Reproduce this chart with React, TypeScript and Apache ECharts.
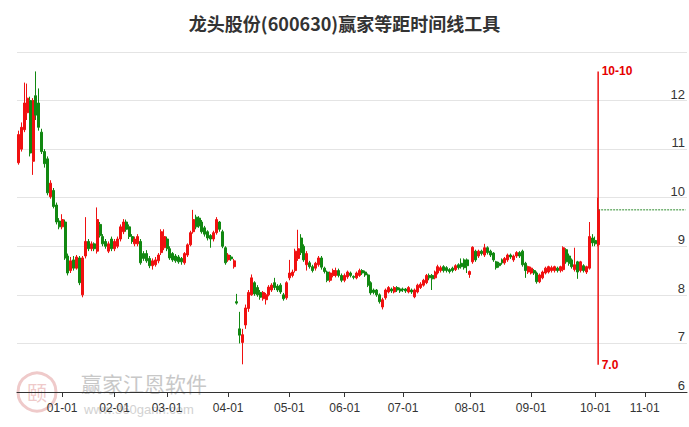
import React, { useEffect, useRef } from "react";
import * as echarts from "echarts";

const TITLE = "龙头股份(600630)赢家等距时间线工具";

// trading calendar
const START_DATE = "2024-12-11";
const CATEGORY_COUNT = 230;
const HOLIDAYS = [
  "2025-01-01", "2025-01-28", "2025-01-29", "2025-01-30", "2025-01-31",
  "2025-02-03", "2025-02-04", "2025-04-04", "2025-05-01", "2025-05-02",
  "2025-05-05", "2025-06-02", "2025-10-01", "2025-10-02", "2025-10-03",
  "2025-10-06", "2025-10-07", "2025-10-08",
];

// daily candles: [open, close, low, high]
const ohlc: number[][] = [
  // Dec 2024
  [10.72, 11.3, 10.68, 11.38], [11.0, 11.45, 10.95, 11.55], [11.4, 11.95, 11.35, 12.37], [11.75, 12.05, 11.6, 12.35], [12.0, 10.92, 10.85, 12.08],
  [10.75, 12.0, 10.47, 12.05], [12.1, 11.7, 11.6, 12.6], [11.95, 11.45, 11.38, 12.25], [11.35, 10.95, 10.9, 11.42], [10.95, 10.7, 10.62, 11.0],
  [10.8, 10.1, 10.05, 10.85], [10.02, 10.3, 9.98, 10.36], [10.15, 9.82, 9.78, 10.2], [9.85, 9.5, 9.45, 9.9], [9.52, 9.4, 9.35, 9.58],
  // Jan 2025
  [9.4, 9.55, 9.35, 9.66], [9.5, 8.76, 8.72, 9.55], [8.8, 8.45, 8.4, 8.85], [8.5, 8.7, 8.45, 8.78], [8.72, 8.55, 8.5, 8.8],
  [8.55, 8.78, 8.52, 8.82], [8.76, 8.25, 8.2, 8.8], [8.0, 8.76, 7.95, 8.8], [8.8, 9.1, 8.75, 9.6], [9.1, 8.95, 8.9, 9.15],
  [8.95, 9.05, 8.9, 9.1], [9.05, 8.95, 8.9, 9.08], [8.9, 9.55, 8.85, 9.8], [9.45, 9.22, 9.18, 9.5], [9.2, 9.05, 9.0, 9.25],
  [9.1, 9.0, 8.95, 9.15], [8.9, 9.05, 8.86, 9.1], [9.15, 8.95, 8.9, 9.2],
  // Feb
  [8.95, 9.1, 8.9, 9.15], [9.0, 9.15, 8.96, 9.2], [9.15, 9.4, 9.1, 9.45], [9.3, 9.5, 9.25, 9.56], [9.5, 9.35, 9.3, 9.55],
  [9.4, 9.2, 9.15, 9.45], [9.2, 9.1, 9.05, 9.25], [9.05, 9.15, 9.0, 9.2], [9.05, 9.2, 9.0, 9.25], [9.1, 8.66, 8.62, 9.15],
  [8.85, 8.75, 8.7, 8.9], [8.85, 8.7, 8.66, 8.92], [8.75, 8.6, 8.55, 8.8], [8.6, 8.7, 8.52, 8.75], [8.62, 8.72, 8.58, 8.78],
  [8.7, 8.82, 8.65, 8.86], [8.87, 9.3, 8.82, 9.35], [8.97, 9.2, 8.92, 9.35],
  // Mar
  [9.15, 8.95, 8.9, 9.2], [8.95, 8.76, 8.72, 9.0], [8.85, 8.72, 8.68, 8.88], [8.8, 8.7, 8.66, 8.84], [8.78, 8.68, 8.64, 8.82],
  [8.75, 8.68, 8.62, 8.78], [8.66, 8.85, 8.62, 8.88], [8.82, 9.03, 8.78, 9.06], [9.03, 9.28, 9.0, 9.32], [9.3, 9.55, 9.26, 9.75],
  [9.6, 9.4, 9.35, 9.65], [9.58, 9.42, 9.38, 9.62], [9.5, 9.3, 9.26, 9.54], [9.38, 9.25, 9.2, 9.42], [9.3, 9.17, 9.12, 9.33],
  [9.22, 9.15, 8.97, 9.25], [9.15, 9.28, 9.1, 9.32], [9.28, 9.55, 9.24, 9.6], [9.5, 9.35, 9.3, 9.52], [9.3, 9.0, 8.96, 9.34],
  [8.97, 8.66, 8.62, 9.0],
  // Apr
  [8.72, 8.82, 8.68, 8.86], [8.78, 8.74, 8.7, 8.82], [8.58, 8.7, 8.54, 8.74], [7.86, 7.83, 7.8, 8.02], [7.3, 7.17, 7.0, 7.65],
  [7.02, 7.18, 6.57, 7.3], [7.38, 7.73, 7.3, 7.8], [7.72, 8.05, 7.65, 8.1], [8.0, 8.35, 7.98, 8.42], [8.25, 8.02, 7.98, 8.28],
  [8.15, 8.0, 7.96, 8.2], [8.05, 7.95, 7.9, 8.1], [7.92, 8.05, 7.88, 8.08], [7.9, 8.0, 7.8, 8.04], [8.0, 8.16, 7.97, 8.2],
  [8.1, 8.2, 8.06, 8.24], [8.25, 8.15, 8.1, 8.35], [8.18, 8.1, 8.06, 8.22], [8.2, 8.06, 8.02, 8.24], [8.0, 7.92, 7.88, 8.04],
  [7.94, 8.25, 7.9, 8.28],
  // May
  [8.35, 8.45, 8.3, 8.72], [8.4, 8.47, 8.36, 8.52], [8.5, 8.9, 8.46, 8.95], [8.75, 8.95, 8.7, 9.34], [9.17, 8.87, 8.82, 9.25],
  [9.0, 8.72, 8.68, 9.04], [8.62, 8.85, 8.5, 8.9], [8.66, 8.58, 8.54, 8.7], [8.58, 8.5, 8.46, 8.62], [8.55, 8.65, 8.5, 8.68],
  [8.62, 8.76, 8.58, 8.8], [8.76, 8.57, 8.52, 8.8], [8.55, 8.48, 8.44, 8.58], [8.47, 8.3, 8.26, 8.5], [8.3, 8.45, 8.26, 8.48],
  [8.4, 8.5, 8.36, 8.54], [8.4, 8.5, 8.36, 8.56], [8.5, 8.4, 8.36, 8.54], [8.4, 8.3, 8.26, 8.44],
  // Jun
  [8.3, 8.4, 8.26, 8.44], [8.37, 8.47, 8.33, 8.5], [8.45, 8.4, 8.36, 8.48], [8.38, 8.36, 8.32, 8.4], [8.35, 8.45, 8.32, 8.48],
  [8.4, 8.5, 8.37, 8.54], [8.5, 8.45, 8.41, 8.53], [8.47, 8.41, 8.37, 8.5], [8.41, 8.2, 8.16, 8.44], [8.25, 8.04, 8.0, 8.28],
  [8.1, 8.05, 8.01, 8.13], [8.1, 8.0, 7.96, 8.12], [8.0, 7.86, 7.82, 8.03], [7.75, 7.9, 7.7, 7.94], [7.94, 8.1, 7.9, 8.13],
  [8.06, 8.15, 8.03, 8.18], [8.12, 8.08, 8.04, 8.15], [8.06, 8.15, 8.03, 8.18], [8.15, 8.1, 8.06, 8.18], [8.12, 8.08, 8.04, 8.15],
  // Jul
  [8.12, 8.1, 8.06, 8.15], [8.12, 8.08, 8.04, 8.14], [8.06, 8.15, 8.03, 8.18], [8.1, 8.06, 8.02, 8.13], [7.96, 8.1, 7.93, 8.13],
  [8.06, 8.2, 8.03, 8.23], [8.15, 8.22, 8.12, 8.26], [8.2, 8.3, 8.17, 8.33], [8.25, 8.4, 8.22, 8.43], [8.4, 8.35, 8.3, 8.44],
  [8.4, 8.33, 8.1, 8.43], [8.35, 8.47, 8.32, 8.5], [8.45, 8.58, 8.42, 8.62], [8.5, 8.56, 8.46, 8.6], [8.58, 8.5, 8.46, 8.61],
  [8.56, 8.5, 8.46, 8.59], [8.52, 8.48, 8.44, 8.55], [8.55, 8.5, 8.46, 8.58], [8.52, 8.6, 8.49, 8.63], [8.62, 8.56, 8.52, 8.65],
  [8.65, 8.58, 8.54, 8.75], [8.72, 8.56, 8.52, 8.75], [8.72, 8.6, 8.45, 8.75],
  // Aug
  [8.42, 8.48, 8.35, 8.5], [8.68, 8.98, 8.64, 9.0], [8.9, 8.72, 8.68, 8.93], [8.8, 8.9, 8.76, 8.93], [8.9, 8.85, 8.81, 8.93],
  [8.82, 8.97, 8.78, 9.05], [8.97, 8.87, 8.83, 9.0], [8.9, 8.82, 8.78, 8.93], [8.86, 8.72, 8.68, 8.88], [8.68, 8.56, 8.52, 8.7],
  [8.65, 8.6, 8.56, 8.68], [8.72, 8.66, 8.62, 8.75], [8.66, 8.75, 8.62, 8.78], [8.72, 8.82, 8.68, 8.85], [8.82, 8.78, 8.74, 8.85],
  [8.72, 8.8, 8.68, 8.83], [8.8, 8.87, 8.76, 8.9], [8.87, 8.8, 8.76, 8.9], [8.9, 8.62, 8.58, 8.93], [8.65, 8.5, 8.35, 8.68],
  [8.47, 8.58, 8.43, 8.6],
  // Sep
  [8.45, 8.55, 8.42, 8.58], [8.5, 8.45, 8.41, 8.53], [8.45, 8.27, 8.23, 8.48], [8.27, 8.41, 8.24, 8.44], [8.35, 8.47, 8.32, 8.5],
  [8.45, 8.55, 8.42, 8.58], [8.47, 8.58, 8.44, 8.6], [8.5, 8.56, 8.46, 8.6], [8.5, 8.58, 8.46, 8.6], [8.55, 8.5, 8.46, 8.58],
  [8.5, 8.58, 8.46, 8.6], [8.52, 8.97, 8.48, 9.0], [8.93, 8.68, 8.64, 8.96], [8.8, 8.65, 8.6, 8.85], [8.72, 8.58, 8.54, 8.75],
  [8.52, 8.62, 8.48, 8.97], [8.68, 8.47, 8.33, 8.7], [8.5, 8.68, 8.46, 8.7], [8.6, 8.5, 8.46, 8.63], [8.47, 8.58, 8.43, 8.6],
  [8.55, 9.2, 8.52, 9.5], [9.17, 9.07, 9.0, 9.25],
  // Oct
  [9.12, 9.05, 9.0, 9.2], [9.03, 9.75, 9.0, 10.0],
];

// time line marker
const MARK_DATE = "2025-10-10";
const MARK_TOP = 12.6;
const MARK_BOTTOM = 6.56;
const MARK_TOP_LABEL = "10-10";
const MARK_BOTTOM_LABEL = "7.0";
const LAST_CLOSE_LEVEL = 9.75;

// y axis
const Y_MIN = 6;
const Y_MAX = 13;
const Y_STEP = 1;

function buildCategories(): string[] {
  const out: string[] = [];
  const hol = new Set(HOLIDAYS);
  const d = new Date(START_DATE + "T00:00:00Z");
  while (out.length < CATEGORY_COUNT) {
    const wd = d.getUTCDay();
    const s = d.toISOString().slice(0, 10);
    if (wd !== 0 && wd !== 6 && !hol.has(s)) out.push(s);
    d.setUTCDate(d.getUTCDate() + 1);
  }
  return out;
}

const markLabel = (text: string) => ({
  show: true,
  position: "right",
  distance: 3,
  formatter: text,
  color: "#e60000",
  fontWeight: "bold",
  fontSize: 12,
  fontFamily: "Liberation Sans, Arial, sans-serif",
});

export default function App() {
  const ref = useRef<HTMLDivElement>(null);

  useEffect(() => {
    if (!ref.current) return;
    const chart = echarts.init(ref.current, undefined, { renderer: "svg" });
    const categories = buildCategories();
    const isMonthStart = (index: number) =>
      index > 0 && categories[index].slice(5, 7) !== categories[index - 1].slice(5, 7);
    const lastCat = categories[categories.length - 1];

    const option: any = {
      animation: false,
      backgroundColor: "#ffffff",
      title: {
        text: TITLE,
        left: "center",
        top: 14,
        padding: 0,
        textStyle: {
          fontSize: 18,
          fontWeight: "bold",
          color: "#333333",
          fontFamily: "Noto Sans CJK SC",
        },
      },
      grid: { left: 17, right: 2, top: 52, bottom: 35, containLabel: false },
      xAxis: {
        type: "category",
        data: categories,
        boundaryGap: true,
        axisLine: { show: true, lineStyle: { color: "#333333", width: 1 } },
        axisTick: {
          show: true,
          alignWithLabel: true,
          length: 5,
          interval: (i: number) => isMonthStart(i),
          lineStyle: { color: "#333333" },
        },
        axisLabel: {
          interval: (i: number) => isMonthStart(i),
          formatter: (v: string) => v.slice(5, 7) + "-01",
          color: "#333333",
          fontSize: 12,
          margin: 10,
          fontFamily: "Liberation Sans, Arial, sans-serif",
        },
        splitLine: { show: false },
      },
      yAxis: {
        type: "value",
        position: "right",
        min: Y_MIN,
        max: Y_MAX,
        interval: Y_STEP,
        axisLine: { show: false },
        axisTick: { show: false },
        splitLine: { show: true, lineStyle: { color: "#e4e4e4", width: 1 } },
        axisLabel: {
          inside: true,
          margin: 2,
          verticalAlign: "bottom",
          color: "#333333",
          fontSize: 13,
          fontFamily: "Liberation Sans, Arial, sans-serif",
          formatter: (v: number) => (v === Y_MAX ? "" : String(v)),
        },
      },
      series: [
        {
          type: "candlestick",
          data: ohlc,
          barWidth: 2.5,
          itemStyle: {
            color: "#f01010",
            color0: "#118811",
            borderColor: "#f01010",
            borderColor0: "#118811",
            borderWidth: 1,
          },
        },
        {
          type: "line",
          data: [
            { value: [MARK_DATE, MARK_TOP], label: markLabel(MARK_TOP_LABEL) },
            { value: [MARK_DATE, MARK_BOTTOM], label: markLabel(MARK_BOTTOM_LABEL) },
          ],
          symbol: "circle",
          symbolSize: 1,
          showSymbol: true,
          itemStyle: { color: "rgba(238,17,17,0)", borderWidth: 0 },
          lineStyle: { color: "#ee1111", width: 1.5 },
          z: 5,
        },
        {
          type: "line",
          data: [
            [MARK_DATE, LAST_CLOSE_LEVEL],
            [lastCat, LAST_CLOSE_LEVEL],
          ],
          symbol: "none",
          lineStyle: { color: "#2e8b2e", width: 1, type: [2, 1] },
          z: 4,
        },
      ],
      graphic: [
        {
          type: "group",
          z: -10,
          silent: true,
          children: [
            {
              type: "circle",
              shape: { cx: 37, cy: 392, r: 19 },
              style: { fill: "none", stroke: "#efcaca", lineWidth: 3 },
            },
            {
              type: "text",
              x: 37,
              y: 392,
              style: {
                text: "颐",
                fill: "#efcaca",
                fontSize: 20,
                align: "center",
                verticalAlign: "middle",
                fontFamily: "Noto Sans CJK SC",
              },
            },
            {
              type: "text",
              x: 81,
              y: 383,
              style: {
                text: "赢家江恩软件",
                fill: "#c8c8c8",
                fontSize: 21,
                verticalAlign: "middle",
                fontFamily: "Noto Sans CJK SC",
              },
            },
            {
              type: "text",
              x: 84,
              y: 409,
              style: {
                text: "www.360gann.com",
                fill: "#d2d2d2",
                fontSize: 13,
                verticalAlign: "middle",
                fontFamily: "Liberation Sans, Arial, sans-serif",
              },
            },
          ],
        },
      ],
    };
    chart.setOption(option);
    return () => chart.dispose();
  }, []);

  return (
    <div
      ref={ref}
      style={{ position: "fixed", left: 0, top: 0, width: 689, height: 427, background: "#fff" }}
    />
  );
}
